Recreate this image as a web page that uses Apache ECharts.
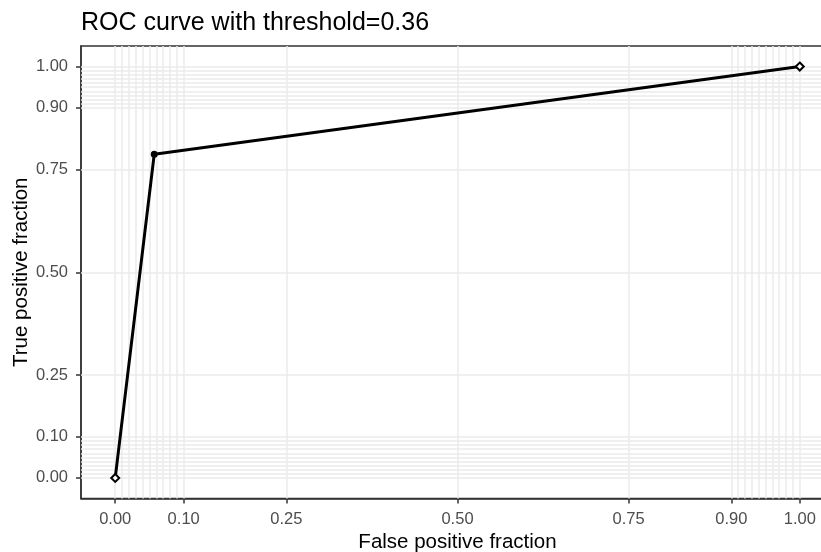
<!DOCTYPE html>
<html>
<head>
<meta charset="utf-8">
<script src="https://cdn.jsdelivr.net/npm/echarts@6/dist/echarts.min.js"></script>
<style>html,body{margin:0;padding:0;background:#fff;}#c{width:821px;height:552px;}</style>
</head>
<body>
<div id="c"></div>
<script>
// ROC data
const fpf = [0, 0.057, 1];
const tpf = [0, 0.787, 1];
// tick labels (both axes)
const majorBreaks = [0, 0.1, 0.25, 0.5, 0.75, 0.9, 1];
const minorBreaks = [0, 0.01, 0.02, 0.03, 0.04, 0.05, 0.06, 0.07, 0.08, 0.09, 0.1,
                     0.9, 0.91, 0.92, 0.93, 0.94, 0.95, 0.96, 0.97, 0.98, 0.99, 1];
const gridBreaks = Array.from(new Set(minorBreaks.concat(majorBreaks)));
const diagonal = [[0, 0], [1, 1]];

const FONT = '"Liberation Sans", Arial, sans-serif';
const gridColor = '#ebebeb';

const rocData = fpf.map((x, i) => {
  const end = (i === 0 || i === fpf.length - 1);
  return {
    value: [x, tpf[i]],
    symbol: end ? 'diamond' : 'circle',
    symbolSize: end ? 8 : 7,
    itemStyle: end ? {color: '#fff', borderColor: '#000', borderWidth: 2} : {color: '#000'}
  };
});

const chart = echarts.init(document.getElementById('c'), null, {renderer: 'canvas'});
chart.setOption({
  animation: false,
  backgroundColor: '#fff',
  title: {
    text: 'ROC curve with threshold=0.36',
    left: 76, top: 6,
    textStyle: {fontFamily: FONT, fontSize: 25, fontWeight: 'normal', color: '#000'}
  },
  grid: {
    left: 81, top: 46, right: -13, bottom: 53.5,
    containLabel: false, outerBoundsMode: 'none',
    show: true, borderColor: '#333', borderWidth: 1.5, backgroundColor: 'transparent'
  },
  xAxis: {
    type: 'value', min: -0.05, max: 1.05,
    name: 'False positive fraction', nameLocation: 'middle', nameGap: 33, nameMoveOverlap: false,
    nameTextStyle: {fontFamily: FONT, fontSize: 20.5, color: '#000'},
    axisLine: {show: true, onZero: false, lineStyle: {color: '#333', width: 1.5}},
    axisTick: {show: true, inside: false, customValues: majorBreaks, length: 5, lineStyle: {color: '#333', width: 1.5}},
    axisLabel: {customValues: majorBreaks, margin: 12, fontFamily: FONT, fontSize: 16.5, color: '#4d4d4d',
                formatter: v => v.toFixed(2)},
    splitLine: {show: false}
  },
  yAxis: {
    type: 'value', min: -0.05, max: 1.05,
    name: 'True positive fraction', nameLocation: 'middle', nameGap: 49, nameMoveOverlap: false,
    nameTextStyle: {fontFamily: FONT, fontSize: 20.5, color: '#000'},
    axisLine: {show: true, onZero: false, lineStyle: {color: '#333', width: 1.5}},
    axisTick: {show: true, inside: false, customValues: majorBreaks, length: 5, lineStyle: {color: '#333', width: 1.5}},
    axisLabel: {customValues: majorBreaks, margin: 13, fontFamily: FONT, fontSize: 16.5, color: '#4d4d4d',
                formatter: v => v.toFixed(2)},
    splitLine: {show: false}
  },
  series: [
    {
      type: 'line', data: [], z: 1, silent: true,
      markLine: {
        silent: true, symbol: ['none', 'none'], label: {show: false},
        lineStyle: {color: gridColor, width: 1.5, type: 'solid'},
        emphasis: {disabled: true},
        data: gridBreaks.map(v => ({xAxis: v})).concat(gridBreaks.map(v => ({yAxis: v})))
      }
    },
    {
      type: 'line', data: diagonal, z: 2, silent: true, showSymbol: false,
      lineStyle: {color: '#fff', width: 1.5, type: [4, 4]}
    },
    {
      type: 'line', data: rocData, z: 5, silent: true, showSymbol: true,
      lineStyle: {color: '#000', width: 3}
    }
  ]
});
</script>
</body>
</html>
